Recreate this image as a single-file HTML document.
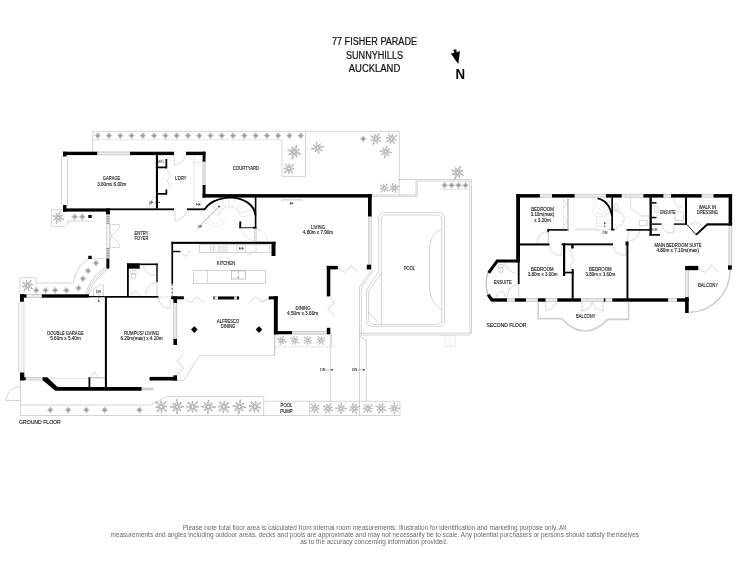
<!DOCTYPE html>
<html><head><meta charset="utf-8"><title>Floor plan</title>
<style>
html,body{margin:0;padding:0;background:#fff;}
body{width:749px;height:579px;overflow:hidden;font-family:"Liberation Sans",sans-serif;}
svg{display:block;filter:blur(0.35px);}
svg text{font-family:"Liberation Sans",sans-serif;}
</style></head><body>
<svg width="749" height="579" viewBox="0 0 749 579">
<rect width="749" height="579" fill="#fff"/>
<defs>
<g id="ps"><path d="M0,-3.4 Q0.9,-1.6 1.8,-1.8 Q1.6,-0.9 3.3,0 Q1.6,0.9 1.8,1.8 Q0.9,1.6 0,3.8 Q-0.9,1.6 -1.8,1.8 Q-1.6,0.9 -3.3,0 Q-1.6,-0.9 -1.8,-1.8 Q-0.9,-1.6 0,-3.4Z" fill="#cdcdcd"/><path d="M0,-3.4V3.8M-3.3,0H3.3" stroke="#b4b4b4" stroke-width="0.4"/><circle r="1.5" fill="#9a9a9a"/></g>
<g id="pl"><g stroke="#8a8a8a" stroke-width="0.5" fill="none"><path d="M0,0 Q1.39,-3.47 0,-6.30 Q-1.39,-3.47 0,0" transform="rotate(8)"/><path d="M0,0 Q1.14,-2.86 0,-5.20 Q-1.14,-2.86 0,0" transform="rotate(53)"/><path d="M0,0 Q1.32,-3.30 0,-6.00 Q-1.32,-3.30 0,0" transform="rotate(98)"/><path d="M0,0 Q1.10,-2.75 0,-5.00 Q-1.10,-2.75 0,0" transform="rotate(143)"/><path d="M0,0 Q1.45,-3.63 0,-6.60 Q-1.45,-3.63 0,0" transform="rotate(188)"/><path d="M0,0 Q1.19,-2.97 0,-5.40 Q-1.19,-2.97 0,0" transform="rotate(233)"/><path d="M0,0 Q1.34,-3.35 0,-6.10 Q-1.34,-3.35 0,0" transform="rotate(278)"/><path d="M0,0 Q1.10,-2.75 0,-5.00 Q-1.10,-2.75 0,0" transform="rotate(323)"/></g><circle r="1.2" fill="#fff" stroke="#999" stroke-width="0.35"/></g>
</defs>
<text x="374.50" y="45.40" font-size="10" fill="#111" stroke="#111" stroke-width="0.220" font-weight="normal" text-anchor="middle" textLength="85.00" lengthAdjust="spacingAndGlyphs">77 FISHER PARADE</text>
<text x="374.50" y="58.70" font-size="10" fill="#111" stroke="#111" stroke-width="0.220" font-weight="normal" text-anchor="middle" textLength="57.00" lengthAdjust="spacingAndGlyphs">SUNNYHILLS</text>
<text x="374.50" y="72.00" font-size="10" fill="#111" stroke="#111" stroke-width="0.220" font-weight="normal" text-anchor="middle" textLength="51.50" lengthAdjust="spacingAndGlyphs">AUCKLAND</text>
<polygon points="453.2,49.7 456.3,49.3 456.7,52.4 460,51.1 458.3,64.1 450.9,53.8 454.4,52.4" fill="#000"/>
<text x="455.6" y="78.6" font-size="14.8" font-weight="bold" fill="#000" textLength="9.6" lengthAdjust="spacingAndGlyphs">N</text>
<polyline points="92.80,151.70 92.80,131.30 399.30,131.30 399.30,194.70" fill="none" stroke="#a8a8a8" stroke-width="0.5" />
<polyline points="92.80,139.80 282.00,139.80" fill="none" stroke="#a8a8a8" stroke-width="0.5" stroke-dasharray="1 0.7"/>
<polyline points="282.00,139.80 282.00,176.40 305.60,176.40 305.60,131.30" fill="none" stroke="#a8a8a8" stroke-width="0.5" />
<use href="#ps" transform="translate(97.70,135.60) scale(1.02)"/>
<use href="#ps" transform="translate(108.98,135.60) scale(1.02)"/>
<use href="#ps" transform="translate(120.26,135.60) scale(1.02)"/>
<use href="#ps" transform="translate(131.54,135.60) scale(1.02)"/>
<use href="#ps" transform="translate(142.82,135.60) scale(1.02)"/>
<use href="#ps" transform="translate(154.10,135.60) scale(1.02)"/>
<use href="#ps" transform="translate(165.38,135.60) scale(1.02)"/>
<use href="#ps" transform="translate(176.66,135.60) scale(1.02)"/>
<use href="#ps" transform="translate(187.94,135.60) scale(1.02)"/>
<use href="#ps" transform="translate(199.22,135.60) scale(1.02)"/>
<use href="#ps" transform="translate(210.50,135.60) scale(1.02)"/>
<use href="#ps" transform="translate(221.78,135.60) scale(1.02)"/>
<use href="#ps" transform="translate(233.06,135.60) scale(1.02)"/>
<use href="#ps" transform="translate(244.34,135.60) scale(1.02)"/>
<use href="#ps" transform="translate(255.62,135.60) scale(1.02)"/>
<use href="#ps" transform="translate(266.90,135.60) scale(1.02)"/>
<use href="#ps" transform="translate(278.18,135.60) scale(1.02)"/>
<use href="#ps" transform="translate(289.46,135.60) scale(1.02)"/>
<use href="#ps" transform="translate(300.74,135.60) scale(1.02)"/>
<use href="#ps" transform="translate(363.20,138.80) scale(1.02)"/>
<use href="#pl" transform="translate(294.30,152.00) scale(1.15) rotate(10)"/>
<use href="#pl" transform="translate(289.00,168.60) scale(1.0) rotate(40)"/>
<use href="#pl" transform="translate(317.70,147.80) scale(1.0) rotate(70)"/>
<use href="#pl" transform="translate(376.00,138.80) scale(1.0) rotate(20)"/>
<use href="#pl" transform="translate(391.50,138.80) scale(1.0) rotate(50)"/>
<use href="#pl" transform="translate(385.80,151.80) scale(1.0) rotate(0)"/>
<use href="#pl" transform="translate(384.20,188.00) scale(0.85) rotate(30)"/>
<use href="#pl" transform="translate(394.20,188.00) scale(0.85) rotate(60)"/>
<use href="#pl" transform="translate(385.60,152.60) scale(0.0) rotate(0)"/>
<polyline points="371.50,195.00 416.00,195.00 416.00,179.50" fill="none" stroke="#a8a8a8" stroke-width="0.5" />
<polyline points="371.50,196.30 417.30,196.30 417.30,181.00" fill="none" stroke="#a8a8a8" stroke-width="0.5" />
<polyline points="398.80,179.50 471.50,179.50 471.50,333.20" fill="none" stroke="#a8a8a8" stroke-width="0.5" />
<polyline points="440.50,189.30 469.90,189.30" fill="none" stroke="#c4c4c4" stroke-width="0.5" />
<polyline points="417.30,181.00 469.90,181.00 469.90,333.20" fill="none" stroke="#a8a8a8" stroke-width="0.5" />
<use href="#pl" transform="translate(457.60,172.60) scale(1.1) rotate(15)"/>
<use href="#ps" transform="translate(444.60,185.20) scale(1.02)"/>
<use href="#ps" transform="translate(451.60,185.20) scale(1.02)"/>
<use href="#ps" transform="translate(458.50,185.20) scale(1.02)"/>
<use href="#ps" transform="translate(465.50,185.20) scale(1.02)"/>
<path d="M378.6,272 L378.6,219 Q378.6,212.5 385,212.5 L438,212.5 Q444.6,212.5 444.6,219 L444.6,320 Q444.6,326.3 438,326.3 L373,326.3 Q366.5,326.3 366.5,320 L366.5,290.3 Z" fill="none" stroke="#a8a8a8" stroke-width="0.5" />
<path d="M381.3,325 L381.3,220 Q381.3,215 386.5,215 L436.5,215 Q441.8,215 441.8,220 L441.8,319 Q441.8,324.4 436.5,324.4 L374,324.4 Q368.6,324.4 368.6,319 L368.6,291.3 L381.3,273.2" fill="none" stroke="#a8a8a8" stroke-width="0.5" />
<path d="M441,229.5 Q430,234 429.6,248 L429.6,290 Q430.5,302 441,309.5" fill="none" stroke="#a8a8a8" stroke-width="0.5" />
<polyline points="368.80,312.00 378.00,322.50" fill="none" stroke="#a8a8a8" stroke-width="0.5" />
<polyline points="368.50,216.50 368.50,264.80" fill="none" stroke="#a8a8a8" stroke-width="0.5" />
<polyline points="371.20,216.50 371.20,264.80" fill="none" stroke="#a8a8a8" stroke-width="0.5" />
<polyline points="369.80,216.50 369.80,264.80" fill="none" stroke="#a8a8a8" stroke-width="0.5" />
<polyline points="371.50,270.40 359.50,286.90 359.50,415.20" fill="none" stroke="#a8a8a8" stroke-width="0.5" />
<polyline points="372.80,271.40 361.40,287.40 361.40,334.60" fill="none" stroke="#a8a8a8" stroke-width="0.5" />
<polyline points="358.70,333.20 471.50,333.20" fill="none" stroke="#a8a8a8" stroke-width="0.5" />
<polyline points="359.50,335.10 469.90,335.10" fill="none" stroke="#a8a8a8" stroke-width="0.5" />
<polyline points="366.20,338.00 366.20,401.30" fill="none" stroke="#a8a8a8" stroke-width="0.5" />
<polyline points="359.50,336.20 366.20,341.00" fill="none" stroke="#a8a8a8" stroke-width="0.5" />
<polyline points="445.00,335.10 445.00,346.50 455.00,346.50 455.00,335.10" fill="none" stroke="#c0c0c0" stroke-width="0.4" />
<path d="M445.5,336 Q450,338 451,346" fill="none" stroke="#ccc" stroke-width="0.4" />
<polyline points="274.40,334.30 274.40,355.40" fill="none" stroke="#a8a8a8" stroke-width="0.5" />
<polyline points="274.40,346.80 330.30,346.80" fill="none" stroke="#a8a8a8" stroke-width="0.5" stroke-dasharray="1 0.7"/>
<polyline points="330.30,334.30 330.30,401.30" fill="none" stroke="#a8a8a8" stroke-width="0.5" />
<polyline points="331.60,334.30 331.60,347.00" fill="none" stroke="#a8a8a8" stroke-width="0.5" />
<use href="#pl" transform="translate(281.70,340.40) scale(0.8) rotate(281.7)"/>
<use href="#pl" transform="translate(294.70,340.40) scale(0.8) rotate(294.7)"/>
<use href="#pl" transform="translate(307.70,340.40) scale(0.8) rotate(307.7)"/>
<use href="#pl" transform="translate(320.80,340.40) scale(0.8) rotate(320.8)"/>
<text x="322.70" y="371.30" font-size="4.0" fill="#222" stroke="#222" stroke-width="0.088" font-weight="normal" text-anchor="middle" textLength="5.20" lengthAdjust="spacingAndGlyphs">DN</text>
<text x="354.50" y="371.30" font-size="4.0" fill="#222" stroke="#222" stroke-width="0.088" font-weight="normal" text-anchor="middle" textLength="5.20" lengthAdjust="spacingAndGlyphs">DN</text>
<polyline points="326.20,369.90 332.50,369.90" fill="none" stroke="#555" stroke-width="0.4" />
<circle cx="332.2" cy="369.9" r="0.8" fill="#222"/>
<polyline points="358.00,369.90 364.20,369.90" fill="none" stroke="#555" stroke-width="0.4" />
<circle cx="363.8" cy="369.9" r="0.8" fill="#222"/>
<polyline points="275.00,334.30 275.00,355.30 199.50,355.30 183.90,380.30 177.00,380.30" fill="none" stroke="#a8a8a8" stroke-width="0.5" />
<polyline points="20.50,380.30 20.50,415.50 400.00,415.50" fill="none" stroke="#a8a8a8" stroke-width="0.5" />
<polyline points="20.50,405.00 150.50,405.00 166.50,396.60 263.70,396.60 263.70,415.50" fill="none" stroke="#a8a8a8" stroke-width="0.5" />
<polyline points="263.70,401.30 400.00,401.30 400.00,415.20" fill="none" stroke="#a8a8a8" stroke-width="0.5" />
<polyline points="309.40,401.30 309.40,415.20" fill="none" stroke="#a8a8a8" stroke-width="0.5" />
<use href="#ps" transform="translate(50.30,409.90) scale(1.02)"/>
<use href="#ps" transform="translate(68.20,409.90) scale(1.02)"/>
<use href="#ps" transform="translate(86.30,409.90) scale(1.02)"/>
<use href="#ps" transform="translate(104.70,409.90) scale(1.02)"/>
<use href="#ps" transform="translate(139.50,409.90) scale(1.02)"/>
<use href="#pl" transform="translate(161.30,406.80) scale(1.15) rotate(483.90000000000003)"/>
<use href="#pl" transform="translate(176.90,406.80) scale(1.15) rotate(530.7)"/>
<use href="#pl" transform="translate(192.50,406.80) scale(1.15) rotate(577.5)"/>
<use href="#pl" transform="translate(208.20,406.80) scale(1.15) rotate(624.5999999999999)"/>
<use href="#pl" transform="translate(223.80,406.80) scale(1.15) rotate(671.4000000000001)"/>
<use href="#pl" transform="translate(239.40,406.80) scale(1.15) rotate(718.2)"/>
<use href="#pl" transform="translate(255.00,406.80) scale(1.15) rotate(765.0)"/>
<use href="#pl" transform="translate(314.80,408.40) scale(0.92) rotate(1574.0)"/>
<use href="#pl" transform="translate(328.00,408.40) scale(0.92) rotate(1640)"/>
<use href="#pl" transform="translate(341.00,408.40) scale(0.92) rotate(1705)"/>
<use href="#pl" transform="translate(354.30,408.40) scale(0.92) rotate(1771.5)"/>
<use href="#pl" transform="translate(367.80,408.40) scale(0.92) rotate(1839.0)"/>
<use href="#pl" transform="translate(381.00,408.40) scale(0.92) rotate(1905)"/>
<use href="#pl" transform="translate(394.30,408.40) scale(0.92) rotate(1971.5)"/>
<text x="286.50" y="407.40" font-size="4.9" fill="#111" stroke="#111" stroke-width="0.108" font-weight="normal" text-anchor="middle" textLength="11.80" lengthAdjust="spacingAndGlyphs">POOL</text>
<text x="286.50" y="412.70" font-size="4.9" fill="#111" stroke="#111" stroke-width="0.108" font-weight="normal" text-anchor="middle" textLength="12.40" lengthAdjust="spacingAndGlyphs">PUMP</text>
<path d="M20.3,386.4 Q7,388 6,400.5 L20.3,400.5" fill="none" stroke="#a8a8a8" stroke-width="0.5" />
<polyline points="18.70,301.70 18.70,372.50" fill="none" stroke="#a8a8a8" stroke-width="0.5" />
<polyline points="23.90,301.70 23.90,372.50" fill="none" stroke="#a8a8a8" stroke-width="0.5" />
<polyline points="21.30,301.70 21.30,372.50" fill="none" stroke="#ccc" stroke-width="0.5" />
<polyline points="25.70,378.50 105.00,378.50" fill="none" stroke="#ccc" stroke-width="0.5" />
<polyline points="20.00,293.60 20.00,277.80 36.00,277.80 36.00,283.00 73.30,283.00" fill="none" stroke="#a8a8a8" stroke-width="0.5" />
<polyline points="36.00,283.00 36.00,293.60" fill="none" stroke="#a8a8a8" stroke-width="0.5" stroke-dasharray="1 0.7"/>
<path d="M73.3,283 Q76,266 89,258.3" fill="none" stroke="#a8a8a8" stroke-width="0.5" />
<path d="M85.5,294.3 Q90,276 106.5,266.5" fill="none" stroke="#a8a8a8" stroke-width="0.5" />
<path d="M87.3,294.3 Q91.5,277.5 107.5,268" fill="none" stroke="#a8a8a8" stroke-width="0.5" />
<path d="M89,294.3 Q93,279 108.5,269.3" fill="none" stroke="#a8a8a8" stroke-width="0.5" />
<use href="#pl" transform="translate(27.60,285.60) scale(1.05) rotate(25)"/>
<use href="#ps" transform="translate(36.30,290.30) scale(1.02)"/>
<use href="#ps" transform="translate(45.60,290.30) scale(1.02)"/>
<use href="#ps" transform="translate(55.10,290.30) scale(1.02)"/>
<use href="#ps" transform="translate(66.40,290.30) scale(1.02)"/>
<use href="#ps" transform="translate(96.00,263.00) scale(1.02)"/>
<use href="#ps" transform="translate(88.10,270.80) scale(1.02)"/>
<use href="#ps" transform="translate(82.90,278.60) scale(1.02)"/>
<use href="#ps" transform="translate(78.60,288.00) scale(1.02)"/>
<polyline points="91.60,258.60 106.40,258.60" fill="none" stroke="#a8a8a8" stroke-width="0.4" />
<polyline points="93.50,296.00 93.50,289.00 100.00,285.00 103.50,285.00 103.50,296.00" fill="none" stroke="#a8a8a8" stroke-width="0.5" />
<text x="98.50" y="293.00" font-size="3.8" fill="#222" stroke="#222" stroke-width="0.084" font-weight="normal" text-anchor="middle" textLength="4.80" lengthAdjust="spacingAndGlyphs">DN</text>
<polyline points="98.80,294.00 98.80,301.50" fill="none" stroke="#555" stroke-width="0.4" />
<circle cx="98.8" cy="301.2" r="0.8" fill="#222"/>
<polyline points="61.70,156.50 61.70,205.00" fill="none" stroke="#a8a8a8" stroke-width="0.5" />
<polyline points="67.60,156.50 67.60,205.00" fill="none" stroke="#a8a8a8" stroke-width="0.5" />
<polyline points="63.10,209.80 51.30,209.80 51.30,226.30 65.00,226.30 67.80,223.30 67.80,221.00 92.00,221.00" fill="none" stroke="#a8a8a8" stroke-width="0.5" />
<use href="#pl" transform="translate(58.20,217.60) scale(1.0) rotate(10)"/>
<use href="#ps" transform="translate(74.70,216.70) scale(1.02)"/>
<use href="#ps" transform="translate(82.20,216.70) scale(1.02)"/>
<rect x="97.20" y="151.70" width="32.80" height="3.40" fill="#ececec"/>
<polyline points="97.20,152.00 130.00,152.00" fill="none" stroke="#aaa" stroke-width="0.5" />
<polyline points="97.20,154.80 130.00,154.80" fill="none" stroke="#aaa" stroke-width="0.5" />
<rect x="202.60" y="161.70" width="2.90" height="23.30" fill="#ececec"/>
<polyline points="202.90,161.70 202.90,185.00" fill="none" stroke="#aaa" stroke-width="0.5" />
<polyline points="205.20,161.70 205.20,185.00" fill="none" stroke="#aaa" stroke-width="0.5" />
<polyline points="193.80,155.10 193.80,208.40" fill="none" stroke="#ccc" stroke-width="0.5" />
<polyline points="193.80,162.50 202.60,162.50" fill="none" stroke="#ccc" stroke-width="0.5" />
<polyline points="193.80,201.50 202.60,201.50" fill="none" stroke="#ccc" stroke-width="0.5" />
<text x="198.30" y="206.30" font-size="3.1" fill="#222" stroke="#222" stroke-width="0.068" font-weight="normal" text-anchor="middle" textLength="4.40" lengthAdjust="spacingAndGlyphs">F/F</text>
<path d="M174.3,155.1 L174.3,165 Q183,164 186,155.1" fill="none" stroke="#a8a8a8" stroke-width="0.45" />
<path d="M175,210.2 L175,221 Q184,220 187,210.2" fill="none" stroke="#a8a8a8" stroke-width="0.45" />
<text x="160.80" y="163.00" font-size="2.8" fill="#333" stroke="#333" stroke-width="0.062" font-weight="normal" text-anchor="middle" textLength="5.40" lengthAdjust="spacingAndGlyphs">W/O</text>
<polyline points="158.00,159.30 165.50,159.30" fill="none" stroke="#bbb" stroke-width="0.4" />
<path d="M167,168.5 L170.5,176 L167,181 L170.5,186 L167,189.5" fill="none" stroke="#a8a8a8" stroke-width="0.4" />
<path d="M149.5,208.4 Q150,197.5 158,196.5" fill="none" stroke="#a8a8a8" stroke-width="0.45" />
<text x="151.30" y="203.70" font-size="3.3" fill="#222" stroke="#222" stroke-width="0.073" font-weight="normal" text-anchor="middle" textLength="4.20" lengthAdjust="spacingAndGlyphs">UP</text>
<polyline points="154.50,202.40 159.50,202.40" fill="none" stroke="#444" stroke-width="0.4" />
<path d="M160.4,202.4l-1.8,-0.9v1.8z" fill="#222"/>
<polyline points="106.60,214.50 109.40,214.50" fill="none" stroke="#333" stroke-width="0.55" />
<polyline points="106.60,216.30 109.40,216.30" fill="none" stroke="#333" stroke-width="0.55" />
<polyline points="106.60,218.10 109.40,218.10" fill="none" stroke="#333" stroke-width="0.55" />
<polyline points="106.60,219.90 109.40,219.90" fill="none" stroke="#333" stroke-width="0.55" />
<polyline points="106.60,221.70 109.40,221.70" fill="none" stroke="#333" stroke-width="0.55" />
<polyline points="106.60,223.50 109.40,223.50" fill="none" stroke="#333" stroke-width="0.55" />
<polyline points="106.60,248.50 109.40,248.50" fill="none" stroke="#333" stroke-width="0.55" />
<polyline points="106.60,250.20 109.40,250.20" fill="none" stroke="#333" stroke-width="0.55" />
<polyline points="106.60,251.90 109.40,251.90" fill="none" stroke="#333" stroke-width="0.55" />
<polyline points="106.60,253.60 109.40,253.60" fill="none" stroke="#333" stroke-width="0.55" />
<polyline points="106.60,255.30 109.40,255.30" fill="none" stroke="#333" stroke-width="0.55" />
<polyline points="106.60,257.00 109.40,257.00" fill="none" stroke="#333" stroke-width="0.55" />
<polyline points="106.70,214.00 106.70,258.40" fill="none" stroke="#8c8c8c" stroke-width="0.45" />
<polyline points="109.30,214.00 109.30,258.40" fill="none" stroke="#8c8c8c" stroke-width="0.45" />
<path d="M109.4,224.5 L119.3,224.5 Q119.5,231.5 111,235.8 Z" fill="none" stroke="#a8a8a8" stroke-width="0.45" />
<path d="M109.4,247.5 L119.3,247.5 Q119.5,240.5 111,236.2 Z" fill="none" stroke="#a8a8a8" stroke-width="0.45" />
<polyline points="219.63,214.70 206.95,211.02" fill="none" stroke="#d6d6d6" stroke-width="0.5" />
<polyline points="221.11,212.19 210.33,205.72" fill="none" stroke="#d6d6d6" stroke-width="0.5" />
<polyline points="223.33,210.18 215.39,201.50" fill="none" stroke="#d6d6d6" stroke-width="0.5" />
<polyline points="226.08,208.87 221.69,198.71" fill="none" stroke="#d6d6d6" stroke-width="0.5" />
<polyline points="229.13,208.35 228.66,197.61" fill="none" stroke="#d6d6d6" stroke-width="0.5" />
<polyline points="232.22,208.67 235.71,198.30" fill="none" stroke="#d6d6d6" stroke-width="0.5" />
<polyline points="235.06,209.81 242.22,200.70" fill="none" stroke="#d6d6d6" stroke-width="0.5" />
<polyline points="237.42,211.66 247.61,204.62" fill="none" stroke="#d6d6d6" stroke-width="0.5" />
<polyline points="239.09,214.07 251.43,209.70" fill="none" stroke="#d6d6d6" stroke-width="0.5" />
<polyline points="239.92,216.82 253.32,215.51" fill="none" stroke="#d6d6d6" stroke-width="0.5" />
<path d="M219,216 A10.5,9.5 0 0 1 240,216" fill="none" stroke="#cfcfcf" stroke-width="0.5" />
<path d="M205,213 Q203,224 214,226.5 Q225,228 224,219" fill="none" stroke="#d6d6d6" stroke-width="0.5" />
<path d="M208,214 Q207,222 215,223.5 Q221,224 221,218" fill="none" stroke="#d6d6d6" stroke-width="0.5" />
<polyline points="200.50,225.20 219.30,206.40" fill="none" stroke="#555" stroke-width="0.45" />
<path d="M220.2,205.4l-2.4,0.9l1.5,1.5z" fill="#222"/>
<text x="200.00" y="227.80" font-size="3.3" fill="#222" stroke="#222" stroke-width="0.073" font-weight="normal" text-anchor="middle" textLength="4.20" lengthAdjust="spacingAndGlyphs">UP</text>
<path d="M241,228.2 Q243,238 254.5,241.5 L254.5,228.2" fill="none" stroke="#c4c4c4" stroke-width="0.45" />
<path d="M256.6,229 Q266,231 268.3,241.5 L256.6,241.5" fill="none" stroke="#c4c4c4" stroke-width="0.45" />
<polyline points="255.00,228.00 255.00,242.00" fill="none" stroke="#aaa" stroke-width="0.5" />
<polyline points="256.30,228.00 256.30,242.00" fill="none" stroke="#aaa" stroke-width="0.5" />
<rect x="199.5" y="244.8" width="70.3" height="7.8" fill="none" stroke="#a8a8a8" stroke-width="0.5"/>
<polyline points="236.80,244.80 236.80,252.60" fill="none" stroke="#a8a8a8" stroke-width="0.45" />
<polyline points="245.50,244.80 245.50,252.60" fill="none" stroke="#a8a8a8" stroke-width="0.45" />
<polyline points="256.00,244.80 256.00,252.60" fill="none" stroke="#a8a8a8" stroke-width="0.45" />
<polyline points="210.50,245.60 210.50,252.00" fill="none" stroke="#c4c4c4" stroke-width="0.5" />
<polyline points="212.00,245.60 212.00,252.00" fill="none" stroke="#c4c4c4" stroke-width="0.5" />
<polyline points="213.50,245.60 213.50,252.00" fill="none" stroke="#c4c4c4" stroke-width="0.5" />
<polyline points="215.00,245.60 215.00,252.00" fill="none" stroke="#c4c4c4" stroke-width="0.5" />
<polyline points="218.00,245.60 218.00,252.00" fill="none" stroke="#c4c4c4" stroke-width="0.5" />
<polyline points="219.50,245.60 219.50,252.00" fill="none" stroke="#c4c4c4" stroke-width="0.5" />
<polyline points="221.00,245.60 221.00,252.00" fill="none" stroke="#c4c4c4" stroke-width="0.5" />
<polyline points="222.50,245.60 222.50,252.00" fill="none" stroke="#c4c4c4" stroke-width="0.5" />
<polyline points="224.00,245.60 224.00,252.00" fill="none" stroke="#c4c4c4" stroke-width="0.5" />
<polyline points="225.50,245.60 225.50,252.00" fill="none" stroke="#c4c4c4" stroke-width="0.5" />
<polyline points="227.00,245.60 227.00,252.00" fill="none" stroke="#c4c4c4" stroke-width="0.5" />
<text x="241.20" y="249.90" font-size="3.2" fill="#222" stroke="#222" stroke-width="0.070" font-weight="normal" text-anchor="middle" textLength="4.80" lengthAdjust="spacingAndGlyphs">F/F</text>
<rect x="193.4" y="270.3" width="72.1" height="13.2" fill="none" stroke="#a8a8a8" stroke-width="0.5"/>
<polyline points="207.50,270.30 207.50,283.50" fill="none" stroke="#a8a8a8" stroke-width="0.45" />
<rect x="231.3" y="270.9" width="14.2" height="8.1" fill="none" stroke="#888" stroke-width="0.5"/>
<polyline points="238.30,270.90 238.30,279.00" fill="none" stroke="#888" stroke-width="0.45" />
<circle cx="238.3" cy="277.5" r="0.6" fill="#555"/>
<path d="M180.4,252 L185.5,256.5 L190.5,250.5" fill="none" stroke="#a8a8a8" stroke-width="0.45" />
<path d="M248,255 Q252,254.5 253.5,251" fill="none" stroke="#a8a8a8" stroke-width="0.4" />
<polyline points="172.20,283.80 172.20,296.50" fill="none" stroke="#333" stroke-width="0.9" stroke-dasharray="2.2 1.6"/>
<polyline points="184.70,298.60 190.80,302.90 196.90,296.80 203.80,302.90" fill="none" stroke="#a8a8a8" stroke-width="0.5" />
<polyline points="249.00,302.90 255.90,296.80 262.00,302.00 268.90,298.20" fill="none" stroke="#a8a8a8" stroke-width="0.5" />
<polyline points="337.80,268.20 345.00,272.50 351.10,265.90 358.60,272.50" fill="none" stroke="#a8a8a8" stroke-width="0.5" />
<polyline points="330.30,297.80 334.70,303.00 327.70,309.10 334.70,316.00" fill="none" stroke="#a8a8a8" stroke-width="0.5" />
<polyline points="183.50,354.50 177.00,361.20 183.50,368.40 177.00,375.60" fill="none" stroke="#a8a8a8" stroke-width="0.5" />
<polyline points="268.70,298.50 264.00,302.00 260.50,297.00" fill="none" stroke="#d0d0d0" stroke-width="0.4" />
<rect x="173.40" y="303.00" width="3.60" height="35.80" fill="#ececec"/>
<polyline points="173.70,303.00 173.70,338.80" fill="none" stroke="#aaa" stroke-width="0.5" />
<polyline points="176.70,303.00 176.70,338.80" fill="none" stroke="#aaa" stroke-width="0.5" />
<rect x="292.10" y="331.10" width="34.70" height="3.20" fill="#ececec"/>
<polyline points="292.10,331.40 326.80,331.40" fill="none" stroke="#999" stroke-width="0.5" />
<polyline points="292.10,334.00 326.80,334.00" fill="none" stroke="#999" stroke-width="0.5" />
<rect x="26.50" y="294.30" width="15.30" height="3.40" fill="#ececec"/>
<polyline points="26.50,294.60 41.80,294.60" fill="none" stroke="#aaa" stroke-width="0.5" />
<polyline points="26.50,297.40 41.80,297.40" fill="none" stroke="#aaa" stroke-width="0.5" />
<rect x="25.70" y="377.20" width="17.70" height="3.10" fill="#ececec"/>
<polyline points="25.70,377.50 43.40,377.50" fill="none" stroke="#aaa" stroke-width="0.5" />
<polyline points="25.70,380.00 43.40,380.00" fill="none" stroke="#aaa" stroke-width="0.5" />
<polyline points="90.30,377.20 94.50,372.00 98.00,377.20" fill="none" stroke="#a8a8a8" stroke-width="0.45" />
<polyline points="141.60,389.00 153.40,389.00" fill="none" stroke="#d0d0d0" stroke-width="2.8" />
<rect x="130.8" y="270.5" width="5.3" height="3.6" rx="1" fill="none" stroke="#a8a8a8" stroke-width="0.45"/>
<ellipse cx="133.5" cy="276" rx="2.4" ry="2.8" fill="none" stroke="#a8a8a8" stroke-width="0.45"/>
<path d="M131,296 Q131,291.5 135,291.3 Q139,291.5 139,296" fill="none" stroke="#a8a8a8" stroke-width="0.45" />
<polyline points="133.50,293.80 136.50,293.80" fill="none" stroke="#a8a8a8" stroke-width="0.4" />
<path d="M143,265.1 Q144,274.5 156.3,275.5" fill="none" stroke="#a8a8a8" stroke-width="0.45" />
<path d="M156.3,282.5 Q147,283.5 145.5,294" fill="none" stroke="#a8a8a8" stroke-width="0.45" />
<polyline points="157.00,282.10 157.00,296.00" fill="none" stroke="#999" stroke-width="0.5" />
<path d="M158.4,297.7 Q159.5,307.5 170,308.5 L170.5,297.7" fill="none" stroke="#a8a8a8" stroke-width="0.45" />
<polyline points="158.40,297.00 171.20,297.00" fill="none" stroke="#bbb" stroke-width="0.5" />
<polyline points="281.80,201.20 281.80,199.90 302.00,199.90 302.00,201.20" fill="none" stroke="#8c8c8c" stroke-width="0.5" />
<text x="291.70" y="205.40" font-size="3.3" fill="#222" stroke="#222" stroke-width="0.073" font-weight="normal" text-anchor="middle" textLength="3.80" lengthAdjust="spacingAndGlyphs">FP</text>
<rect x="63.00" y="151.70" width="34.20" height="3.40" fill="#000"/>
<rect x="63.00" y="151.70" width="3.50" height="4.80" fill="#000"/>
<rect x="130.00" y="151.70" width="44.00" height="3.40" fill="#000"/>
<rect x="186.00" y="151.70" width="19.50" height="3.40" fill="#000"/>
<rect x="202.60" y="151.70" width="2.90" height="10.00" fill="#000"/>
<rect x="202.60" y="185.00" width="2.90" height="12.60" fill="#000"/>
<rect x="202.60" y="194.10" width="169.10" height="3.50" fill="#000"/>
<rect x="368.00" y="194.10" width="3.70" height="22.40" fill="#000"/>
<rect x="63.00" y="208.40" width="47.00" height="3.20" fill="#000"/>
<rect x="110.00" y="208.40" width="64.00" height="1.80" fill="#000"/>
<rect x="187.00" y="208.40" width="18.00" height="1.80" fill="#000"/>
<rect x="63.00" y="205.00" width="3.50" height="6.60" fill="#000"/>
<rect x="155.90" y="155.10" width="2.10" height="53.40" fill="#000"/>
<rect x="155.90" y="166.50" width="10.80" height="1.80" fill="#000"/>
<rect x="155.90" y="193.00" width="10.80" height="1.70" fill="#000"/>
<rect x="165.50" y="159.00" width="1.70" height="9.30" fill="#000"/>
<rect x="165.50" y="189.50" width="1.70" height="5.20" fill="#000"/>
<rect x="106.00" y="208.40" width="4.00" height="5.70" fill="#000"/>
<path d="M106.4,258.4H109.4V267.3A1.5,1.5 0 0 1 106.4,267.3Z" fill="#000"/>
<rect x="88.30" y="215.00" width="3.40" height="3.00" fill="#000"/>
<rect x="88.30" y="255.80" width="3.40" height="3.20" fill="#000"/>
<rect x="20.00" y="294.30" width="6.50" height="3.40" fill="#000"/>
<rect x="20.00" y="294.30" width="3.90" height="7.40" fill="#000"/>
<rect x="41.80" y="294.30" width="47.20" height="3.40" fill="#000"/>
<rect x="89.00" y="296.00" width="15.60" height="1.30" fill="#000"/>
<rect x="104.60" y="296.00" width="53.80" height="1.70" fill="#000"/>
<rect x="104.90" y="296.00" width="2.00" height="92.00" fill="#000"/>
<rect x="20.00" y="372.50" width="4.30" height="7.80" fill="#000"/>
<rect x="20.00" y="377.20" width="5.70" height="3.10" fill="#000"/>
<polygon points="42.6,377.2 47.2,377.2 57.6,387.1 141.6,387.1 141.6,390.7 55.4,390.7 42.6,380.3" fill="#000"/>
<rect x="88.50" y="377.20" width="1.80" height="10.80" fill="#000"/>
<polyline points="90.30,377.60 105.00,377.60" fill="none" stroke="#999" stroke-width="0.5" />
<rect x="127.00" y="263.50" width="1.80" height="33.10" fill="#000"/>
<rect x="127.00" y="263.50" width="30.70" height="1.60" fill="#000"/>
<rect x="127.00" y="263.50" width="12.70" height="5.20" fill="#000"/>
<rect x="156.30" y="263.50" width="1.40" height="18.60" fill="#000"/>
<rect x="171.40" y="241.80" width="104.10" height="2.10" fill="#000"/>
<rect x="171.40" y="241.80" width="1.70" height="42.00" fill="#000"/>
<rect x="271.50" y="241.80" width="4.00" height="14.20" fill="#000"/>
<rect x="173.10" y="250.80" width="7.30" height="1.40" fill="#000"/>
<rect x="171.20" y="296.30" width="12.70" height="3.00" fill="#000"/>
<rect x="173.40" y="296.30" width="3.60" height="6.70" fill="#000"/>
<rect x="213.40" y="296.50" width="1.20" height="2.90" fill="#000"/>
<rect x="218.00" y="296.50" width="16.20" height="2.90" fill="#000"/>
<rect x="236.80" y="296.50" width="2.30" height="2.90" fill="#000"/>
<polyline points="213.40,296.70 239.10,296.70" fill="none" stroke="#555" stroke-width="0.4" />
<polyline points="213.40,299.20 239.10,299.20" fill="none" stroke="#555" stroke-width="0.4" />
<rect x="268.70" y="296.30" width="9.10" height="3.10" fill="#000"/>
<rect x="273.90" y="296.30" width="3.90" height="38.00" fill="#000"/>
<rect x="273.90" y="331.10" width="18.20" height="3.20" fill="#000"/>
<rect x="326.80" y="327.80" width="3.50" height="6.50" fill="#000"/>
<rect x="326.80" y="265.90" width="11.00" height="3.50" fill="#000"/>
<rect x="326.80" y="265.90" width="3.50" height="30.50" fill="#000"/>
<rect x="366.80" y="264.70" width="4.40" height="4.80" fill="#000"/>
<rect x="173.40" y="338.80" width="3.60" height="6.20" fill="#000"/>
<rect x="149.60" y="376.90" width="27.40" height="3.60" fill="#000"/>
<rect x="173.50" y="375.30" width="3.50" height="5.20" fill="#000"/>
<polygon points="191.0,329.6 194.3,326.3 197.60000000000002,329.6 194.3,332.90000000000003" fill="#000"/>
<polygon points="255.7,329.6 259,326.3 262.3,329.6 259,332.90000000000003" fill="#000"/>
<path d="M204.6,209.6 C208.5,203 218,197.8 230,197.6 C244,197.6 254.6,205 255.4,215.5" fill="none" stroke="#000" stroke-width="1.9" />
<rect x="254.80" y="197.30" width="1.60" height="30.90" fill="#000"/>
<rect x="239.30" y="221.50" width="1.90" height="6.70" fill="#000"/>
<rect x="239.30" y="227.30" width="16.10" height="0.90" fill="#000"/>
<rect x="253.00" y="226.80" width="3.40" height="1.60" fill="#000"/>
<path d="M538.2,301.7 L538.2,318.6 L561.6,318.6 Q584.5,343 608,319.4 L628.6,319.4 L628.6,301.6" fill="none" stroke="#cfcfcf" stroke-width="1.6" />
<path d="M730.2,269.7 A41,42.5 0 0 1 689.8,312.2" fill="none" stroke="#cfcfcf" stroke-width="1.6" />
<rect x="685.10" y="270.20" width="3.60" height="26.90" fill="#ececec"/>
<polyline points="685.40,270.20 685.40,297.10" fill="none" stroke="#aaa" stroke-width="0.5" />
<polyline points="688.40,270.20 688.40,297.10" fill="none" stroke="#aaa" stroke-width="0.5" />
<rect x="728.60" y="225.50" width="3.50" height="39.80" fill="#ececec"/>
<polyline points="728.90,225.50 728.90,265.30" fill="none" stroke="#aaa" stroke-width="0.5" />
<polyline points="731.80,225.50 731.80,265.30" fill="none" stroke="#aaa" stroke-width="0.5" />
<path d="M487.8,272.6 Q484.5,284 487.8,295" fill="none" stroke="#bbb" stroke-width="1.2" />
<rect x="539.90" y="194.10" width="12.10" height="3.50" fill="#ececec"/>
<polyline points="539.90,194.40 552.00,194.40" fill="none" stroke="#aaa" stroke-width="0.5" />
<polyline points="539.90,197.30 552.00,197.30" fill="none" stroke="#aaa" stroke-width="0.5" />
<rect x="574.60" y="194.10" width="31.40" height="3.50" fill="#ececec"/>
<polyline points="574.60,194.40 606.00,194.40" fill="none" stroke="#aaa" stroke-width="0.5" />
<polyline points="574.60,197.30 606.00,197.30" fill="none" stroke="#aaa" stroke-width="0.5" />
<rect x="621.70" y="194.10" width="21.70" height="3.50" fill="#ececec"/>
<polyline points="621.70,194.40 643.40,194.40" fill="none" stroke="#aaa" stroke-width="0.5" />
<polyline points="621.70,197.30 643.40,197.30" fill="none" stroke="#aaa" stroke-width="0.5" />
<rect x="663.40" y="194.10" width="7.60" height="3.50" fill="#ececec"/>
<polyline points="663.40,194.40 671.00,194.40" fill="none" stroke="#aaa" stroke-width="0.5" />
<polyline points="663.40,197.30 671.00,197.30" fill="none" stroke="#aaa" stroke-width="0.5" />
<rect x="701.60" y="194.10" width="11.90" height="3.50" fill="#ececec"/>
<polyline points="701.60,194.40 713.50,194.40" fill="none" stroke="#aaa" stroke-width="0.5" />
<polyline points="701.60,197.30 713.50,197.30" fill="none" stroke="#aaa" stroke-width="0.5" />
<rect x="507.00" y="298.30" width="7.70" height="3.40" fill="#ececec"/>
<polyline points="507.00,298.60 514.70,298.60" fill="none" stroke="#aaa" stroke-width="0.5" />
<polyline points="507.00,301.40 514.70,301.40" fill="none" stroke="#aaa" stroke-width="0.5" />
<rect x="526.00" y="298.30" width="11.80" height="3.40" fill="#ececec"/>
<polyline points="526.00,298.60 537.80,298.60" fill="none" stroke="#aaa" stroke-width="0.5" />
<polyline points="526.00,301.40 537.80,301.40" fill="none" stroke="#aaa" stroke-width="0.5" />
<rect x="545.60" y="298.30" width="11.70" height="3.40" fill="#ececec"/>
<polyline points="545.60,298.60 557.30,298.60" fill="none" stroke="#aaa" stroke-width="0.5" />
<polyline points="545.60,301.40 557.30,301.40" fill="none" stroke="#aaa" stroke-width="0.5" />
<rect x="581.00" y="298.30" width="23.00" height="3.40" fill="#ececec"/>
<polyline points="581.00,298.60 604.00,298.60" fill="none" stroke="#aaa" stroke-width="0.5" />
<polyline points="581.00,301.40 604.00,301.40" fill="none" stroke="#aaa" stroke-width="0.5" />
<rect x="605.30" y="298.30" width="7.00" height="3.40" fill="#ececec"/>
<polyline points="605.30,298.60 612.30,298.60" fill="none" stroke="#aaa" stroke-width="0.5" />
<polyline points="605.30,301.40 612.30,301.40" fill="none" stroke="#aaa" stroke-width="0.5" />
<rect x="668.10" y="298.30" width="8.90" height="3.40" fill="#ececec"/>
<polyline points="668.10,298.60 677.00,298.60" fill="none" stroke="#aaa" stroke-width="0.5" />
<polyline points="668.10,301.40 677.00,301.40" fill="none" stroke="#aaa" stroke-width="0.5" />
<polyline points="698.30,268.00 704.60,272.30 712.10,265.30 718.40,272.30" fill="none" stroke="#a8a8a8" stroke-width="0.5" />
<path d="M545.8,301.7 L545.8,310.5 Q553,310 556.8,301.7" fill="none" stroke="#a8a8a8" stroke-width="0.45" />
<path d="M582,301.7 L582,311 Q590,310 592.5,301.7 Q595,310 603,311 L603,301.7" fill="none" stroke="#a8a8a8" stroke-width="0.45" />
<polyline points="607.50,217.00 595.50,217.00" fill="none" stroke="#d6d6d6" stroke-width="0.55" />
<polyline points="607.64,216.04 596.10,212.31" fill="none" stroke="#d6d6d6" stroke-width="0.55" />
<polyline points="608.03,215.15 597.86,207.99" fill="none" stroke="#d6d6d6" stroke-width="0.55" />
<polyline points="608.66,214.40 600.63,204.37" fill="none" stroke="#d6d6d6" stroke-width="0.55" />
<polyline points="609.47,213.85 604.21,201.72" fill="none" stroke="#d6d6d6" stroke-width="0.55" />
<polyline points="610.39,213.55 608.31,200.26" fill="none" stroke="#d6d6d6" stroke-width="0.55" />
<path d="M597.5,200 Q592,207 593,212.5 Q594,216.5 596.5,217.5 L596.5,229.9" fill="none" stroke="#dcdcdc" stroke-width="0.5" />
<polyline points="596.50,220.20 611.00,220.20" fill="none" stroke="#d4d4d4" stroke-width="0.5" />
<polyline points="596.50,223.20 611.00,223.20" fill="none" stroke="#d4d4d4" stroke-width="0.5" />
<polyline points="596.50,226.30 611.00,226.30" fill="none" stroke="#d4d4d4" stroke-width="0.5" />
<polyline points="574.60,229.90 611.30,229.90" fill="none" stroke="#bbb" stroke-width="0.5" />
<polyline points="575.00,228.60 596.50,228.60" fill="none" stroke="#d0d0d0" stroke-width="0.4" />
<polyline points="604.80,222.50 604.80,228.50" fill="none" stroke="#444" stroke-width="0.45" />
<path d="M604.8,221.7l-0.9,1.9h1.8z" fill="#222"/>
<text x="605.00" y="233.90" font-size="3.8" fill="#222" stroke="#222" stroke-width="0.084" font-weight="normal" text-anchor="middle" textLength="4.80" lengthAdjust="spacingAndGlyphs">DN</text>
<polyline points="563.50,200.00 567.50,204.00 563.50,208.00" fill="none" stroke="#a8a8a8" stroke-width="0.4" />
<polyline points="563.50,216.00 567.50,221.00 563.50,226.00" fill="none" stroke="#a8a8a8" stroke-width="0.4" />
<polyline points="563.50,197.40 563.50,229.10" fill="none" stroke="#d4d4d4" stroke-width="0.4" />
<path d="M537,243.4 Q537.5,232.5 547.4,231.5" fill="none" stroke="#a8a8a8" stroke-width="0.45" />
<path d="M549.4,245.5 Q551,255.5 561.3,255.5 L561.6,245.5" fill="none" stroke="#a8a8a8" stroke-width="0.45" />
<path d="M613,245.2 Q614,255 625.5,255.5 L625.8,245.2" fill="none" stroke="#a8a8a8" stroke-width="0.45" />
<path d="M613,229.5 Q622,228 624.5,218.5 Q623,211 613.5,210.5" fill="none" stroke="#a8a8a8" stroke-width="0.45" />
<path d="M628.3,230.7 L627.3,241.5 Q637,241 640,230.7" fill="none" stroke="#a8a8a8" stroke-width="0.45" />
<path d="M661.5,224.8 Q664,234 673.5,233 L673.8,224.8" fill="none" stroke="#a8a8a8" stroke-width="0.45" />
<path d="M687.5,225.5 Q692,221.5 698,222.5 Q701,224 703,228" fill="none" stroke="#a8a8a8" stroke-width="0.45" />
<path d="M673.8,197.4 Q674,206 682,207.5" fill="none" stroke="#a8a8a8" stroke-width="0.4" />
<path d="M571.5,248.5 Q569,252 572.5,256 Q575,260 571.5,263 Q569.5,266 572,269" fill="none" stroke="#a8a8a8" stroke-width="0.4" />
<rect x="654.5" y="206" width="3.6" height="7" rx="1.6" fill="none" stroke="#a8a8a8" stroke-width="0.45"/>
<rect x="675" y="212" width="8.5" height="8.5" fill="none" stroke="#a8a8a8" stroke-width="0.45"/>
<text x="654.80" y="230.60" font-size="2.7" fill="#444" stroke="#444" stroke-width="0.059" font-weight="normal" text-anchor="middle" textLength="5.40" lengthAdjust="spacingAndGlyphs">ROBE</text>
<rect x="614.5" y="204" width="3.6" height="6.4" rx="1.6" fill="none" stroke="#a8a8a8" stroke-width="0.45"/>
<polyline points="630.50,197.40 630.50,207.50 641.00,216.00 649.50,216.00" fill="none" stroke="#a8a8a8" stroke-width="0.45" />
<rect x="639.5" y="220.5" width="8" height="5" fill="none" stroke="#a8a8a8" stroke-width="0.45"/>
<rect x="498.3" y="264.5" width="5" height="3" rx="0.8" fill="none" stroke="#a8a8a8" stroke-width="0.45"/>
<ellipse cx="500.8" cy="270.2" rx="2.2" ry="2.6" fill="none" stroke="#a8a8a8" stroke-width="0.45"/>
<path d="M505,263 Q506,271 516.5,273.5" fill="none" stroke="#a8a8a8" stroke-width="0.45" />
<path d="M517.8,284.5 Q508.5,285.5 507,297" fill="none" stroke="#a8a8a8" stroke-width="0.45" />
<path d="M496.5,297.5 Q496.8,291.5 501,291.3 Q505,291.5 505.3,297.5" fill="none" stroke="#a8a8a8" stroke-width="0.45" />
<polyline points="518.70,284.00 518.70,298.30" fill="none" stroke="#aaa" stroke-width="0.5" />
<rect x="516.50" y="194.10" width="23.40" height="3.50" fill="#000"/>
<rect x="552.00" y="194.10" width="22.60" height="3.50" fill="#000"/>
<rect x="606.00" y="194.10" width="15.70" height="3.50" fill="#000"/>
<rect x="643.40" y="194.10" width="20.00" height="3.50" fill="#000"/>
<rect x="671.00" y="194.10" width="30.60" height="3.50" fill="#000"/>
<rect x="713.50" y="194.10" width="18.60" height="3.50" fill="#000"/>
<rect x="516.20" y="194.10" width="3.80" height="68.40" fill="#000"/>
<rect x="517.80" y="262.50" width="1.80" height="21.50" fill="#000"/>
<rect x="728.60" y="194.10" width="3.50" height="31.40" fill="#000"/>
<rect x="706.80" y="223.30" width="25.30" height="2.20" fill="#000"/>
<polyline points="707.40,224.20 696.00,234.90" fill="none" stroke="#000" stroke-width="1.9" />
<polyline points="687.20,224.80 696.00,234.60" fill="none" stroke="#000" stroke-width="0.9" />
<rect x="685.00" y="197.40" width="2.00" height="27.40" fill="#000"/>
<rect x="651.70" y="223.40" width="9.80" height="1.40" fill="#000"/>
<rect x="673.80" y="223.40" width="13.20" height="1.40" fill="#000"/>
<rect x="649.50" y="197.40" width="2.30" height="38.20" fill="#000"/>
<rect x="651.80" y="202.10" width="4.70" height="1.50" fill="#000"/>
<rect x="651.80" y="216.80" width="4.70" height="1.50" fill="#000"/>
<rect x="649.50" y="234.00" width="10.40" height="1.70" fill="#000"/>
<rect x="626.50" y="229.10" width="24.70" height="1.60" fill="#000"/>
<rect x="611.30" y="197.40" width="1.70" height="32.90" fill="#000"/>
<rect x="611.30" y="228.90" width="3.20" height="1.50" fill="#000"/>
<path d="M597.6,198.4 Q609.5,201 611.9,216" fill="none" stroke="#000" stroke-width="1.8" />
<rect x="547.40" y="229.10" width="21.10" height="1.60" fill="#000"/>
<rect x="547.40" y="229.10" width="1.70" height="3.20" fill="#000"/>
<polyline points="548.20,232.30 548.20,243.40" fill="none" stroke="#aaa" stroke-width="0.6" />
<rect x="567.30" y="197.40" width="1.30" height="32.90" fill="#b8b8b8"/>
<rect x="520.00" y="243.40" width="29.40" height="2.10" fill="#000"/>
<rect x="561.60" y="243.40" width="51.40" height="1.90" fill="#000"/>
<rect x="563.00" y="243.40" width="2.20" height="32.60" fill="#000"/>
<rect x="565.00" y="271.70" width="8.70" height="1.70" fill="#000"/>
<rect x="571.70" y="269.00" width="2.00" height="29.60" fill="#000"/>
<rect x="571.20" y="244.00" width="2.50" height="4.50" fill="#000"/>
<rect x="626.50" y="243.40" width="1.90" height="56.60" fill="#000"/>
<rect x="625.50" y="241.50" width="2.90" height="3.80" fill="#000"/>
<path d="M520,261 L497.2,261 L488.6,272.8" fill="none" stroke="#000" stroke-width="3.1" />
<path d="M488.2,294.6 L491.6,299.6 L492,300" fill="none" stroke="#000" stroke-width="3.3" />
<rect x="491.30" y="298.30" width="15.70" height="3.40" fill="#000"/>
<rect x="514.70" y="298.30" width="11.30" height="3.40" fill="#000"/>
<rect x="537.80" y="298.30" width="7.80" height="3.40" fill="#000"/>
<rect x="557.30" y="298.30" width="23.70" height="3.40" fill="#000"/>
<rect x="603.80" y="298.30" width="1.50" height="3.40" fill="#000"/>
<rect x="612.30" y="298.30" width="55.80" height="3.40" fill="#000"/>
<rect x="677.00" y="298.30" width="11.70" height="3.40" fill="#000"/>
<rect x="685.10" y="297.10" width="3.60" height="15.90" fill="#000"/>
<rect x="685.10" y="265.90" width="13.20" height="4.30" fill="#000"/>
<rect x="728.00" y="265.30" width="3.80" height="4.40" fill="#000"/>
<text x="111.60" y="180.40" font-size="4.9" fill="#111" stroke="#111" stroke-width="0.108" font-weight="normal" text-anchor="middle" textLength="17.50" lengthAdjust="spacingAndGlyphs">GARAGE</text>
<text x="111.80" y="185.80" font-size="4.9" fill="#111" stroke="#111" stroke-width="0.108" font-weight="normal" text-anchor="middle" textLength="29.20" lengthAdjust="spacingAndGlyphs">3.60mx 6.00m</text>
<text x="180.80" y="180.40" font-size="4.9" fill="#111" stroke="#111" stroke-width="0.108" font-weight="normal" text-anchor="middle" textLength="11.50" lengthAdjust="spacingAndGlyphs">L'DRY</text>
<text x="246.00" y="170.30" font-size="4.9" fill="#111" stroke="#111" stroke-width="0.108" font-weight="normal" text-anchor="middle" textLength="26.00" lengthAdjust="spacingAndGlyphs">COURTYARD</text>
<text x="141.50" y="234.50" font-size="4.9" fill="#111" stroke="#111" stroke-width="0.108" font-weight="normal" text-anchor="middle" textLength="13.90" lengthAdjust="spacingAndGlyphs">ENTRY</text>
<text x="141.50" y="239.70" font-size="4.9" fill="#111" stroke="#111" stroke-width="0.108" font-weight="normal" text-anchor="middle" textLength="13.90" lengthAdjust="spacingAndGlyphs">FOYER</text>
<text x="318.00" y="228.80" font-size="4.9" fill="#111" stroke="#111" stroke-width="0.108" font-weight="normal" text-anchor="middle" textLength="13.90" lengthAdjust="spacingAndGlyphs">LIVING</text>
<text x="318.00" y="234.00" font-size="4.9" fill="#111" stroke="#111" stroke-width="0.108" font-weight="normal" text-anchor="middle" textLength="30.40" lengthAdjust="spacingAndGlyphs">4.80m x 7.90m</text>
<text x="226.00" y="264.70" font-size="4.9" fill="#111" stroke="#111" stroke-width="0.108" font-weight="normal" text-anchor="middle" textLength="18.30" lengthAdjust="spacingAndGlyphs">KITCHEN</text>
<text x="303.00" y="310.00" font-size="4.9" fill="#111" stroke="#111" stroke-width="0.108" font-weight="normal" text-anchor="middle" textLength="15.00" lengthAdjust="spacingAndGlyphs">DINING</text>
<text x="302.60" y="315.30" font-size="4.9" fill="#111" stroke="#111" stroke-width="0.108" font-weight="normal" text-anchor="middle" textLength="31.30" lengthAdjust="spacingAndGlyphs">4.50m x 3.60m</text>
<text x="228.00" y="322.90" font-size="4.9" fill="#111" stroke="#111" stroke-width="0.108" font-weight="normal" text-anchor="middle" textLength="22.20" lengthAdjust="spacingAndGlyphs">ALFRESCO</text>
<text x="228.00" y="327.80" font-size="4.9" fill="#111" stroke="#111" stroke-width="0.108" font-weight="normal" text-anchor="middle" textLength="14.50" lengthAdjust="spacingAndGlyphs">DINING</text>
<text x="141.50" y="334.50" font-size="4.9" fill="#111" stroke="#111" stroke-width="0.108" font-weight="normal" text-anchor="middle" textLength="35.20" lengthAdjust="spacingAndGlyphs">RUMPUS/ LIVING</text>
<text x="141.50" y="340.00" font-size="4.9" fill="#111" stroke="#111" stroke-width="0.108" font-weight="normal" text-anchor="middle" textLength="42.20" lengthAdjust="spacingAndGlyphs">6.20m(max) x 4.10m</text>
<text x="65.50" y="334.70" font-size="4.9" fill="#111" stroke="#111" stroke-width="0.108" font-weight="normal" text-anchor="middle" textLength="36.50" lengthAdjust="spacingAndGlyphs">DOUBLE GARAGE</text>
<text x="65.50" y="339.90" font-size="4.9" fill="#111" stroke="#111" stroke-width="0.108" font-weight="normal" text-anchor="middle" textLength="30.50" lengthAdjust="spacingAndGlyphs">5.60m x 5.40m</text>
<text x="409.50" y="270.40" font-size="4.9" fill="#111" stroke="#111" stroke-width="0.108" font-weight="normal" text-anchor="middle" textLength="11.20" lengthAdjust="spacingAndGlyphs">POOL</text>
<text x="19.00" y="423.80" font-size="5.6" fill="#111" stroke="#111" stroke-width="0.123" font-weight="normal" text-anchor="start" textLength="41.80" lengthAdjust="spacingAndGlyphs">GROUND FLOOR</text>
<text x="486.60" y="326.70" font-size="5.6" fill="#111" stroke="#111" stroke-width="0.123" font-weight="normal" text-anchor="start" textLength="39.80" lengthAdjust="spacingAndGlyphs">SECOND FLOOR</text>
<text x="542.50" y="210.80" font-size="4.9" fill="#111" stroke="#111" stroke-width="0.108" font-weight="normal" text-anchor="middle" textLength="22.60" lengthAdjust="spacingAndGlyphs">BEDROOM</text>
<text x="542.50" y="216.20" font-size="4.9" fill="#111" stroke="#111" stroke-width="0.108" font-weight="normal" text-anchor="middle" textLength="23.50" lengthAdjust="spacingAndGlyphs">3.10m(max)</text>
<text x="542.50" y="221.70" font-size="4.9" fill="#111" stroke="#111" stroke-width="0.108" font-weight="normal" text-anchor="middle" textLength="16.50" lengthAdjust="spacingAndGlyphs">x 3.20m</text>
<text x="542.40" y="270.80" font-size="4.9" fill="#111" stroke="#111" stroke-width="0.108" font-weight="normal" text-anchor="middle" textLength="22.60" lengthAdjust="spacingAndGlyphs">BEDROOM</text>
<text x="542.60" y="276.10" font-size="4.9" fill="#111" stroke="#111" stroke-width="0.108" font-weight="normal" text-anchor="middle" textLength="29.80" lengthAdjust="spacingAndGlyphs">3.80m x 3.00m</text>
<text x="600.40" y="270.80" font-size="4.9" fill="#111" stroke="#111" stroke-width="0.108" font-weight="normal" text-anchor="middle" textLength="22.60" lengthAdjust="spacingAndGlyphs">BEDROOM</text>
<text x="600.40" y="276.10" font-size="4.9" fill="#111" stroke="#111" stroke-width="0.108" font-weight="normal" text-anchor="middle" textLength="29.60" lengthAdjust="spacingAndGlyphs">3.80m x 3.60m</text>
<text x="667.80" y="213.90" font-size="4.9" fill="#111" stroke="#111" stroke-width="0.108" font-weight="normal" text-anchor="middle" textLength="15.30" lengthAdjust="spacingAndGlyphs">ENSUITE</text>
<text x="707.60" y="208.50" font-size="4.9" fill="#111" stroke="#111" stroke-width="0.108" font-weight="normal" text-anchor="middle" textLength="17.60" lengthAdjust="spacingAndGlyphs">WALK IN</text>
<text x="707.50" y="213.60" font-size="4.9" fill="#111" stroke="#111" stroke-width="0.108" font-weight="normal" text-anchor="middle" textLength="20.90" lengthAdjust="spacingAndGlyphs">DRESSING</text>
<text x="678.00" y="246.90" font-size="4.9" fill="#111" stroke="#111" stroke-width="0.108" font-weight="normal" text-anchor="middle" textLength="47.20" lengthAdjust="spacingAndGlyphs">MAIN BEDROOM SUITE</text>
<text x="677.70" y="252.10" font-size="4.9" fill="#111" stroke="#111" stroke-width="0.108" font-weight="normal" text-anchor="middle" textLength="42.60" lengthAdjust="spacingAndGlyphs">4.80m x 7.10m(max)</text>
<text x="502.80" y="283.50" font-size="4.9" fill="#111" stroke="#111" stroke-width="0.108" font-weight="normal" text-anchor="middle" textLength="17.90" lengthAdjust="spacingAndGlyphs">ENSUITE</text>
<text x="585.70" y="317.70" font-size="4.9" fill="#111" stroke="#111" stroke-width="0.108" font-weight="normal" text-anchor="middle" textLength="19.50" lengthAdjust="spacingAndGlyphs">BALCONY</text>
<text x="708.00" y="287.40" font-size="4.9" fill="#111" stroke="#111" stroke-width="0.108" font-weight="normal" text-anchor="middle" textLength="20.10" lengthAdjust="spacingAndGlyphs">BALCONY</text>
<text x="374.5" y="529.7" font-size="6.44" fill="#686868" text-anchor="middle">Please note total floor area is calculated from internal room measurements. Illustration for identification and marketing purpose only. All</text>
<text x="374.8" y="537.1" font-size="6.44" fill="#686868" text-anchor="middle">measurements and angles including outdoor areas, decks and pools are approximate and may not necessarily be to scale. Any potential purchasers or persons should satisfy themselves</text>
<text x="374" y="544.3" font-size="6.44" fill="#686868" text-anchor="middle">as to the accuracy concerning information provided.</text>
</svg>
</body></html>
